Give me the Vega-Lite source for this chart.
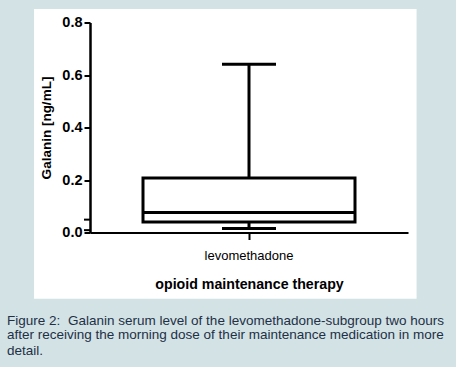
{
  "$schema": "https://vega.github.io/schema/vega-lite/v6.json",
  "width": 318,
  "height": 210,
  "autosize": {"type": "none"},
  "padding": {"left": 90, "top": 22.5, "right": 48, "bottom": 134.5},
  "background": "#d3e2e4",
  "config": {"view": {"stroke": null}, "font": "Liberation Sans"},
  "data": {"values": [{"group": "levomethadone", "min": 0.015, "q1": 0.04, "median": 0.076, "q3": 0.208, "max": 0.641}]},
  "resolve": {"scale": {"x": "independent"}, "axis": {"x": "independent"}},
  "layer": [
    {
      "mark": {"type": "rect", "fill": "white", "clip": false},
      "encoding": {
        "x": {"datum": -0.176, "type": "quantitative", "scale": {"domain": [0, 1], "nice": false, "zero": false}, "axis": null},
        "x2": {"datum": 1.027},
        "y": {"datum": 0.851, "type": "quantitative", "title": "Galanin [ng/mL]",
          "scale": {"domain": [0, 0.8], "nice": false, "zero": false},
          "axis": {
            "zindex": 2,
            "values": [0, 0.2, 0.4, 0.6, 0.8],
            "format": ".1f",
            "labelOverlap": false,
            "grid": false,
            "domainColor": "black", "domainWidth": 2.5,
            "tickColor": "black", "tickWidth": 2, "tickSize": 6,
            "labelFont": "Liberation Sans", "labelFontSize": 14.5, "labelFontWeight": "bold", "labelColor": "black", "labelPadding": 2,
            "titleFont": "Liberation Sans", "titleFontSize": 13.5, "titleFontWeight": "bold", "titleColor": "black", "titlePadding": 8
          }
        },
        "y2": {"datum": -0.252}
      }
    },
    {
      "mark": {"type": "tick", "color": "black", "opacity": 1, "thickness": 2, "size": 6, "orient": "horizontal", "clip": false},
      "encoding": {
        "x": {"datum": -0.0094, "type": "quantitative", "scale": {"domain": [0, 1], "nice": false, "zero": false}, "axis": null},
        "y": {"datum": 0.049, "type": "quantitative", "title": "Galanin [ng/mL]"}
      }
    },
    {
      "mark": {"type": "tick", "color": "black", "opacity": 1, "thickness": 2, "size": 6, "orient": "horizontal", "clip": false},
      "encoding": {
        "x": {"datum": -0.0094, "type": "quantitative", "scale": {"domain": [0, 1], "nice": false, "zero": false}, "axis": null},
        "y": {"datum": 0.009, "type": "quantitative", "title": "Galanin [ng/mL]"}
      }
    },
    {
      "mark": {"type": "text", "text": "Figure 2:", "align": "left", "baseline": "middle", "font": "Liberation Sans", "fontSize": 13.5, "color": "#223047", "clip": false},
      "encoding": {
        "x": {"datum": -0.261, "type": "quantitative", "scale": {"domain": [0, 1], "nice": false, "zero": false}, "axis": null},
        "y": {"datum": -0.336, "type": "quantitative", "title": "Galanin [ng/mL]"}
      }
    },
    {
      "mark": {"type": "text", "text": "Galanin serum level of the levomethadone-subgroup two hours", "align": "left", "baseline": "middle", "font": "Liberation Sans", "fontSize": 13.5, "color": "#223047", "clip": false},
      "encoding": {
        "x": {"datum": -0.069, "type": "quantitative", "scale": {"domain": [0, 1], "nice": false, "zero": false}, "axis": null},
        "y": {"datum": -0.336, "type": "quantitative", "title": "Galanin [ng/mL]"}
      }
    },
    {
      "mark": {"type": "text", "text": "after receiving the morning dose of their maintenance medication in more", "align": "left", "baseline": "middle", "font": "Liberation Sans", "fontSize": 13.5, "color": "#223047", "clip": false},
      "encoding": {
        "x": {"datum": -0.261, "type": "quantitative", "scale": {"domain": [0, 1], "nice": false, "zero": false}, "axis": null},
        "y": {"datum": -0.3905, "type": "quantitative", "title": "Galanin [ng/mL]"}
      }
    },
    {
      "mark": {"type": "text", "text": "detail.", "align": "left", "baseline": "middle", "font": "Liberation Sans", "fontSize": 13.5, "color": "#223047", "clip": false},
      "encoding": {
        "x": {"datum": -0.261, "type": "quantitative", "scale": {"domain": [0, 1], "nice": false, "zero": false}, "axis": null},
        "y": {"datum": -0.45, "type": "quantitative", "title": "Galanin [ng/mL]"}
      }
    },
    {
      "mark": {"type": "rule", "stroke": "black", "strokeWidth": 3},
      "encoding": {
        "x": {"field": "group", "type": "nominal", "scale": {"paddingInner": 0, "paddingOuter": 0.25}, "axis": null},
        "y": {"field": "q3", "type": "quantitative", "title": "Galanin [ng/mL]"},
        "y2": {"field": "max"}
      }
    },
    {
      "mark": {"type": "rule", "stroke": "black", "strokeWidth": 3},
      "encoding": {
        "x": {"field": "group", "type": "nominal", "scale": {"paddingInner": 0, "paddingOuter": 0.25}, "axis": null},
        "y": {"field": "min", "type": "quantitative", "title": "Galanin [ng/mL]"},
        "y2": {"field": "q1"}
      }
    },
    {
      "mark": {"type": "bar", "fill": "white", "stroke": "black", "strokeWidth": 3, "strokeJoin": "miter"},
      "encoding": {
        "x": {"field": "group", "type": "nominal", "scale": {"paddingInner": 0, "paddingOuter": 0.25},
          "axis": {
            "zindex": 2,
            "title": "opioid maintenance therapy", "labelAngle": 0, "grid": false,
            "domainColor": "black", "domainWidth": 2,
            "tickColor": "black", "tickWidth": 2, "tickSize": 7,
            "labelFont": "Liberation Sans", "labelFontSize": 13, "labelColor": "black", "labelPadding": 10,
            "titleFont": "Liberation Sans", "titleFontSize": 14.2, "titleFontWeight": "bold", "titleColor": "black", "titlePadding": 15
          }
        },
        "y": {"field": "q3", "type": "quantitative", "title": "Galanin [ng/mL]"},
        "y2": {"field": "q1"}
      }
    },
    {
      "mark": {"type": "tick", "color": "black", "opacity": 1, "thickness": 3, "size": 212},
      "encoding": {
        "x": {"field": "group", "type": "nominal", "scale": {"paddingInner": 0, "paddingOuter": 0.25}, "axis": null},
        "y": {"field": "median", "type": "quantitative", "title": "Galanin [ng/mL]"}
      }
    },
    {
      "mark": {"type": "tick", "color": "black", "opacity": 1, "thickness": 3, "size": 54},
      "encoding": {
        "x": {"field": "group", "type": "nominal", "scale": {"paddingInner": 0, "paddingOuter": 0.25}, "axis": null},
        "y": {"field": "max", "type": "quantitative", "title": "Galanin [ng/mL]"}
      }
    },
    {
      "mark": {"type": "tick", "color": "black", "opacity": 1, "thickness": 3, "size": 54},
      "encoding": {
        "x": {"field": "group", "type": "nominal", "scale": {"paddingInner": 0, "paddingOuter": 0.25}, "axis": null},
        "y": {"field": "min", "type": "quantitative", "title": "Galanin [ng/mL]"}
      }
    }
  ]
}
